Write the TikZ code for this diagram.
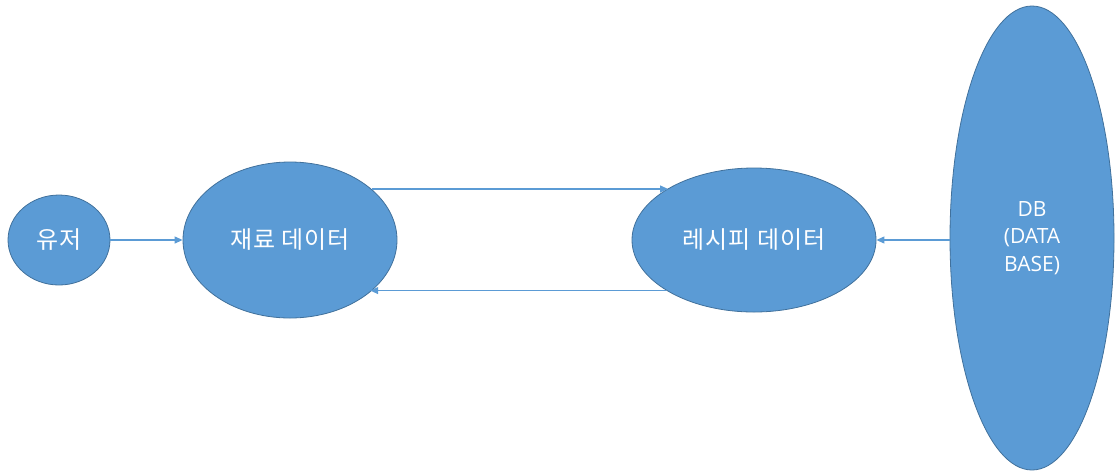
\documentclass[tikz,border=0pt]{standalone}
\usepackage{fontspec}
\setmainfont{Noto Sans CJK KR}[LetterSpace=4]
\newfontfamily\latinfont{Open Sans}
\usetikzlibrary{shapes.geometric,arrows.meta}
\definecolor{fillblue}{HTML}{5B9BD5}
\definecolor{edgeblue}{HTML}{41719C}
\begin{document}
\begin{tikzpicture}[x=1pt,y=-1pt,
  blob/.style={ellipse,draw=edgeblue,line width=0.8pt,fill=fillblue,inner sep=0pt,
    text=white,font=\fontsize{24}{27}\selectfont,align=center},
  conn/.style={draw=fillblue,line width=1.1pt,-{Triangle[length=8pt,width=7pt]}}]
\useasboundingbox (0,0) rectangle (1115,475);
\node[blob,minimum width=102pt,minimum height=90pt] (user) at (59,240) {유저};
\node[blob,minimum width=214pt,minimum height=156pt] (ing) at (290,240) {재료 데이터};
\node[blob,minimum width=244pt,minimum height=144pt] (rec) at (754,240) {레시피 데이터};
\node[blob,minimum width=164pt,minimum height=464pt,font=\latinfont\fontsize{21}{27.5}\selectfont] (db) at (1032,238) {DB\\(DATA\\BASE)};
\draw[conn] (user.east) -- (ing.west);
\draw[conn] (ing.32.2) -- (rec.149.3 |- ing.32.2);
\draw[conn] (rec.210.7) -- (ing.327.8 |- rec.210.7);
\draw[conn] (db.west |- rec.east) -- (rec.east);
\end{tikzpicture}
\end{document}
